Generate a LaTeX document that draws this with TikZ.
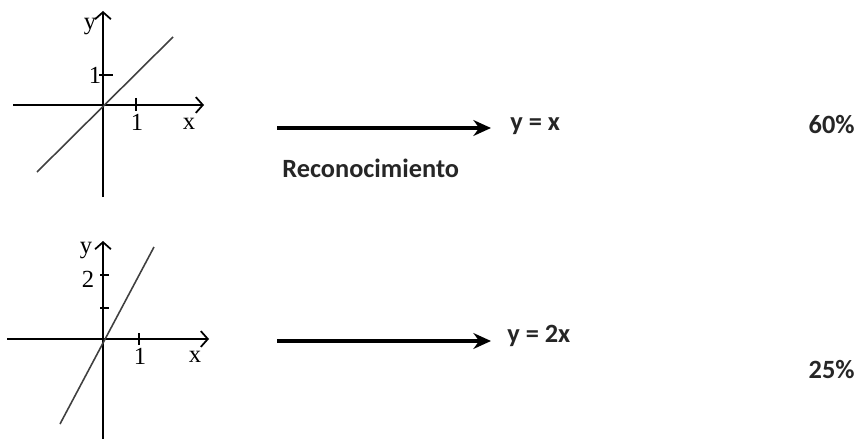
\documentclass[tikz,border=0pt]{standalone}
\usepackage{fontspec}
\setmainfont{Carlito}
\newfontfamily\ejesfont{Liberation Serif}
\usepackage{tikz}
\usetikzlibrary{arrows.meta,positioning,calc}

\tikzset{
	eje/.style={line width=1pt, -{Straight Barb[length=4pt,width=9pt]}},
	recta/.style={line width=0.9pt, black!75},
	marca/.style={line width=0.9pt},
	flecha/.style={line width=1.8pt, -{Stealth[length=10pt,width=9pt]}},
	etiq/.style={font=\ejesfont\fontsize{14}{14}\selectfont, inner sep=1pt},
	texto/.style={font=\bfseries\fontsize{15}{17}\selectfont, inner sep=0pt, text=black!85},
}

\begin{document}
\begin{tikzpicture}[x=0.02cm,y=-0.02cm]
	\useasboundingbox (0,0) rectangle (858,439);
	% primera grafica: y = x
	\coordinate (o1) at (103,105);
	\draw [eje] (13,105) -- (204,105);
	\draw [eje] (103,197) -- (103,11);
	\draw [recta] (37,172) -- (173,37);
	\draw [marca] (136,98) -- (136,111);
	\draw [marca] (99,75) -- (113,75);
	\node [etiq] (x1) at (189,124) {x};
	\node [etiq] (y1) at (90,27) {y};
	\node [etiq] (u1x) at (137,122) {1};
	\node [etiq] (u1y) at (95,75) {1};
	% segunda grafica: y = 2x
	\coordinate (o2) at (103,339);
	\draw [eje] (7,339) -- (209,339);
	\draw [eje] (103,439) -- (103,241);
	\draw [recta] (60,424) -- (154,247);
	\draw [marca] (139,333) -- (139,345);
	\draw [marca] (100,308) -- (109,308);
	\draw [marca] (100,275) -- (109,275);
	\node [etiq] (x2) at (195,357) {x};
	\node [etiq] (y2) at (86,251) {y};
	\node [etiq] (u2x) at (140,356) {1};
	\node [etiq] (u2y) at (88,279) {2};
	% flechas y resultados
	\coordinate (a1s) at (277,128);
	\coordinate (a1e) at (491,128);
	\coordinate (a2s) at (277,341);
	\coordinate (a2e) at (491,341);
	\draw [flecha] (a1s) -- (a1e);
	\draw [flecha] (a2s) -- (a2e);
	\node [texto, anchor=west] (eq1) at (510,126) {y = x};
	\node [texto, anchor=west] (eq2) at (507,336) {y = 2x};
	\node [texto, anchor=west] (rec) at (282,168) {Reconocimiento};
	\node [texto, anchor=east] (p1) at (855,125) {60\%};
	\node [texto, anchor=east] (p2) at (855,370) {25\%};
\end{tikzpicture}
\end{document}
